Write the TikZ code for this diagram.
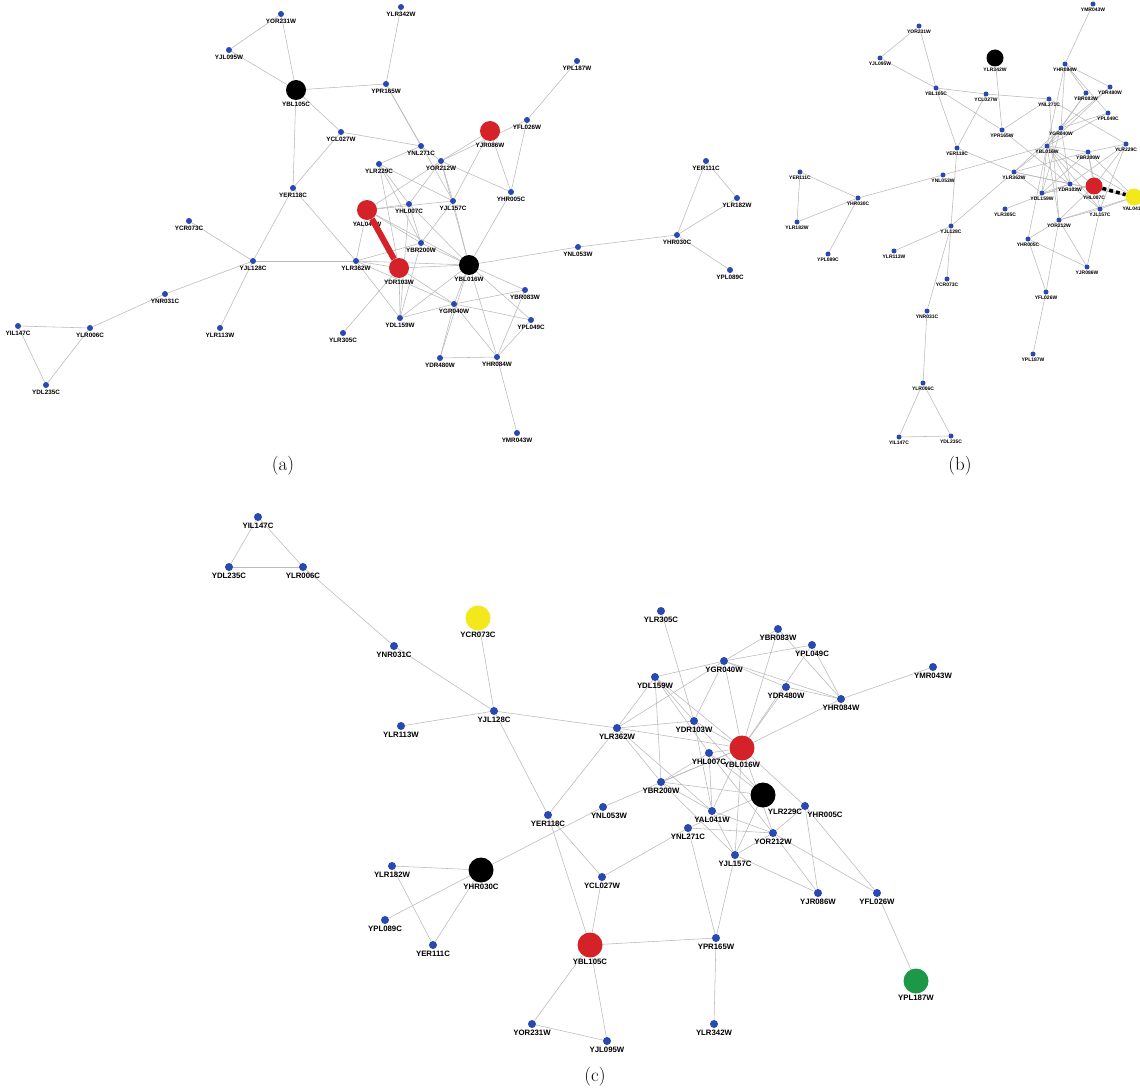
\documentclass[tikz,border=0pt]{standalone}
\usepackage{fontspec}
\setsansfont{Liberation Sans}
\usetikzlibrary{backgrounds}

\definecolor{geneblue}{RGB}{40,72,178}
\definecolor{hitred}{RGB}{212,34,40}
\definecolor{queryyellow}{RGB}{242,232,28}
\definecolor{targetgreen}{RGB}{28,152,72}

% interactions, shared by the three layouts
\newcommand{\genelinks}{%
  YAL041W/YDR103W, YAL041W/YHL007C, YAL041W/YJL157C, YAL041W/YBR200W,
  YAL041W/YLR362W, YAL041W/YOR212W, YAL041W/YBL016W,
  YHL007C/YBL016W, YHL007C/YBR200W, YHL007C/YDL159W, YHL007C/YLR229C, YHL007C/YOR212W,
  YJL157C/YBL016W, YJL157C/YLR229C, YJL157C/YOR212W, YJL157C/YBR200W,
  YOR212W/YBL016W, YOR212W/YNL271C, YOR212W/YHR005C, YOR212W/YJR086W, YOR212W/YFL026W,
  YNL271C/YLR229C, YLR229C/YBR200W, YLR229C/YDR103W,
  YBR200W/YLR362W, YBR200W/YBL016W, YBR200W/YDL159W,
  YLR362W/YDR103W, YLR362W/YBL016W, YLR362W/YDL159W, YLR362W/YGR040W,
  YDR103W/YBL016W, YDR103W/YDL159W, YDR103W/YGR040W, YDR103W/YLR305C,
  YBL016W/YGR040W, YBL016W/YBR083W, YBL016W/YPL049C, YBL016W/YHR084W,
  YBL016W/YDR480W, YBL016W/YDL159W, YBL016W/YHR005C, YBL016W/YNL053W,
  YGR040W/YDL159W, YGR040W/YBR083W, YGR040W/YPL049C, YGR040W/YHR084W, YGR040W/YDR480W,
  YBR083W/YHR084W, YPL049C/YHR084W, YDR480W/YHR084W, YHR084W/YMR043W,
  YIL147C/YDL235C, YIL147C/YLR006C, YDL235C/YLR006C, YLR006C/YNR031C, YNR031C/YJL128C,
  YCR073C/YJL128C, YLR113W/YJL128C, YJL128C/YLR362W, YJL128C/YER118C,
  YER118C/YLR362W, YER118C/YBL105C, YER118C/YCL027W,
  YBL105C/YCL027W, YBL105C/YPR165W, YBL105C/YOR231W, YBL105C/YJL095W, YOR231W/YJL095W,
  YCL027W/YNL271C, YPR165W/YLR342W, YPR165W/YNL271C, YPR165W/YJL157C,
  YFL026W/YPL187W, YFL026W/YHR005C, YJR086W/YHR005C, YJR086W/YJL157C,
  YNL053W/YHR030C, YHR030C/YLR182W, YHR030C/YPL089C, YHR030C/YER111C, YLR182W/YER111C}

\begin{document}
\begin{tikzpicture}[
  x=1pt, y=-1pt,
  gene/.style={circle, inner sep=0pt, fill=geneblue, minimum size=\smallsz},
  hubgene/.style={gene, fill=black, minimum size=\bigsz},
  redgene/.style={hubgene, fill=hitred},
  yellowgene/.style={hubgene, fill=queryyellow},
  greengene/.style={hubgene, fill=targetgreen},
  link/.style={draw=gray!55, line width=0.55pt},
  caption/.style={font=\fontsize{19}{22}\selectfont},
  label distance=0.5pt,
  every label/.style={inner sep=0.8pt, font=\sffamily\bfseries\genefont}
]
\useasboundingbox (0,0) rectangle (1140,1091);

% (a)
\begin{scope}
\def\smallsz{6pt}\def\bigsz{20pt}\def\genefont{\fontsize{6.3}{7}\selectfont}
\foreach \n/\x/\y/\k in {
  YOR231W/281/14/gene, YJL095W/229/50/gene, YBL105C/296/90/hubgene,
  YLR342W/401/7/gene, YPR165W/386/84/gene, YPL187W/577/61/gene,
  YFL026W/527/120/gene, YJR086W/490/131/redgene, YCL027W/341/132/gene,
  YNL271C/421/146/gene, YOR212W/441/161/gene, YLR229C/379/164/gene,
  YER118C/293/188/gene, YHR005C/511/192/gene, YHL007C/409/204/gene,
  YJL157C/453/201/gene, YAL041W/367/210/redgene, YCR073C/189/221/gene,
  YJL128C/253/261/gene, YNR031C/165/294/gene, YIL147C/18/326/gene,
  YLR006C/90/328/gene, YDL235C/46/385/gene, YLR113W/220/328/gene,
  YBR200W/421/243/gene, YLR362W/356/261/gene, YDR103W/399/268/redgene,
  YBL016W/469/265/hubgene, YNL053W/578/247/gene, YBR083W/525/290/gene,
  YGR040W/454/304/gene, YPL049C/531/320/gene, YDL159W/400/318/gene,
  YLR305C/343/333/gene, YDR480W/440/358/gene, YHR084W/497/357/gene,
  YMR043W/517/433/gene, YER111C/706/161/gene, YLR182W/737/198/gene,
  YHR030C/677/235/gene, YPL089C/730/270/gene}
  \node[\k, label=below:\n] (a-\n) at (\x,\y) {};
\end{scope}

% (b)
\begin{scope}
\def\smallsz{5pt}\def\bigsz{17pt}\def\genefont{\fontsize{5}{6}\selectfont}
\clip (760,-5) rectangle (1145,444);
\foreach \n/\x/\y/\k in {
  YMR043W/1093/4/gene, YOR231W/919/26/gene, YJL095W/880/58/gene,
  YLR342W/995/58/hubgene, YHR084W/1065/64/gene, YBL105C/936/88/gene,
  YDR480W/1110/87/gene, YBR083W/1086/93/gene, YCL027W/986/94/gene,
  YNL271C/1049/99/gene, YPL049C/1108/113/gene, YGR040W/1061/128/gene,
  YPR165W/1002/130/gene, YBL016W/1047/146/gene, YLR229C/1126/144/gene,
  YER118C/957/148/gene, YBR200W/1088/152/gene, YLR362W/1014/172/gene,
  YER111C/800/172/gene, YNL053W/943/175/gene, YDR103W/1070/184/gene,
  YHL007C/1094/186/redgene, YDL159W/1042/193/gene, YAL041W/1134/197/yellowgene,
  YHR030C/858/198/gene, YLR305C/1005/209/gene, YJL157C/1100/209/gene,
  YOR212W/1059/220/gene, YLR182W/797/222/gene, YJL128C/951/226/gene,
  YHR005C/1028/239/gene, YLR113W/894/251/gene, YPL089C/828/254/gene,
  YJR086W/1087/267/gene, YCR073C/947/279/gene, YFL026W/1046/292/gene,
  YNR031C/927/311/gene, YPL187W/1033/354/gene, YLR006C/923/383/gene,
  YDL235C/951/436/gene, YIL147C/899/437/gene}
  \node[\k, label=below:\n] (b-\n) at (\x,\y) {};
\end{scope}

% (c)
\begin{scope}
\def\smallsz{8pt}\def\bigsz{25pt}\def\genefont{\fontsize{7.8}{9}\selectfont}
\foreach \n/\x/\y/\k/\dx in {
  YIL147C/258/517/gene/0, YDL235C/229/567/gene/0, YLR006C/303/567/gene/0,
  YNR031C/394/646/gene/0, YCR073C/478/618/yellowgene/0, YJL128C/494/711/gene/0,
  YLR113W/401/726/gene/0, YLR305C/661/611/gene/0, YBR083W/778/629/gene/0,
  YPL049C/812/645/gene/0, YGR040W/724/661/gene/0, YMR043W/933/667/gene/0,
  YDL159W/655/677/gene/0, YDR480W/786/687/gene/0, YHR084W/841/699/gene/0,
  YDR103W/694/721/gene/0, YLR362W/617/728/gene/0, YBL016W/742/748/redgene/0,
  YHL007C/709/753/gene/0, YBR200W/661/782/gene/0, YLR229C/763/795/hubgene/22,
  YHR005C/805/806/gene/20, YNL053W/603/807/gene/6, YAL041W/712/811/gene/0,
  YER118C/548/815/gene/0, YNL271C/688/828/gene/0, YOR212W/773/833/gene/0,
  YJL157C/735/855/gene/0, YLR182W/392/866/gene/0, YHR030C/481/870/hubgene/0,
  YCL027W/602/877/gene/0, YJR086W/818/893/gene/0, YFL026W/877/893/gene/0,
  YPL089C/385/920/gene/0, YPR165W/716/938/gene/0, YER111C/433/945/gene/0,
  YBL105C/590/945/redgene/0, YPL187W/916/981/greengene/0, YOR231W/532/1024/gene/0,
  YLR342W/714/1024/gene/0, YJL095W/607/1041/gene/0}
  \node[\k, label={[xshift=\dx pt]below:\n}] (c-\n) at (\x,\y) {};
\end{scope}

\begin{pgfonlayer}{background}
  \foreach \p in {a,b,c}
    \foreach \u/\v in \genelinks
      \draw[link] (\p-\u) -- (\p-\v);
\end{pgfonlayer}

% highlighted pairs
\draw[hitred, line width=6pt] (a-YAL041W) -- (a-YDR103W);
\draw[black, line width=3.5pt, dash pattern=on 4pt off 3pt] (b-YHL007C) -- (b-YAL041W);

\node[caption] (capa) at (283,466) {(a)};
\node[caption] (capb) at (960,466) {(b)};
\node[caption] (capc) at (595,1077) {(c)};

\end{tikzpicture}
\end{document}
